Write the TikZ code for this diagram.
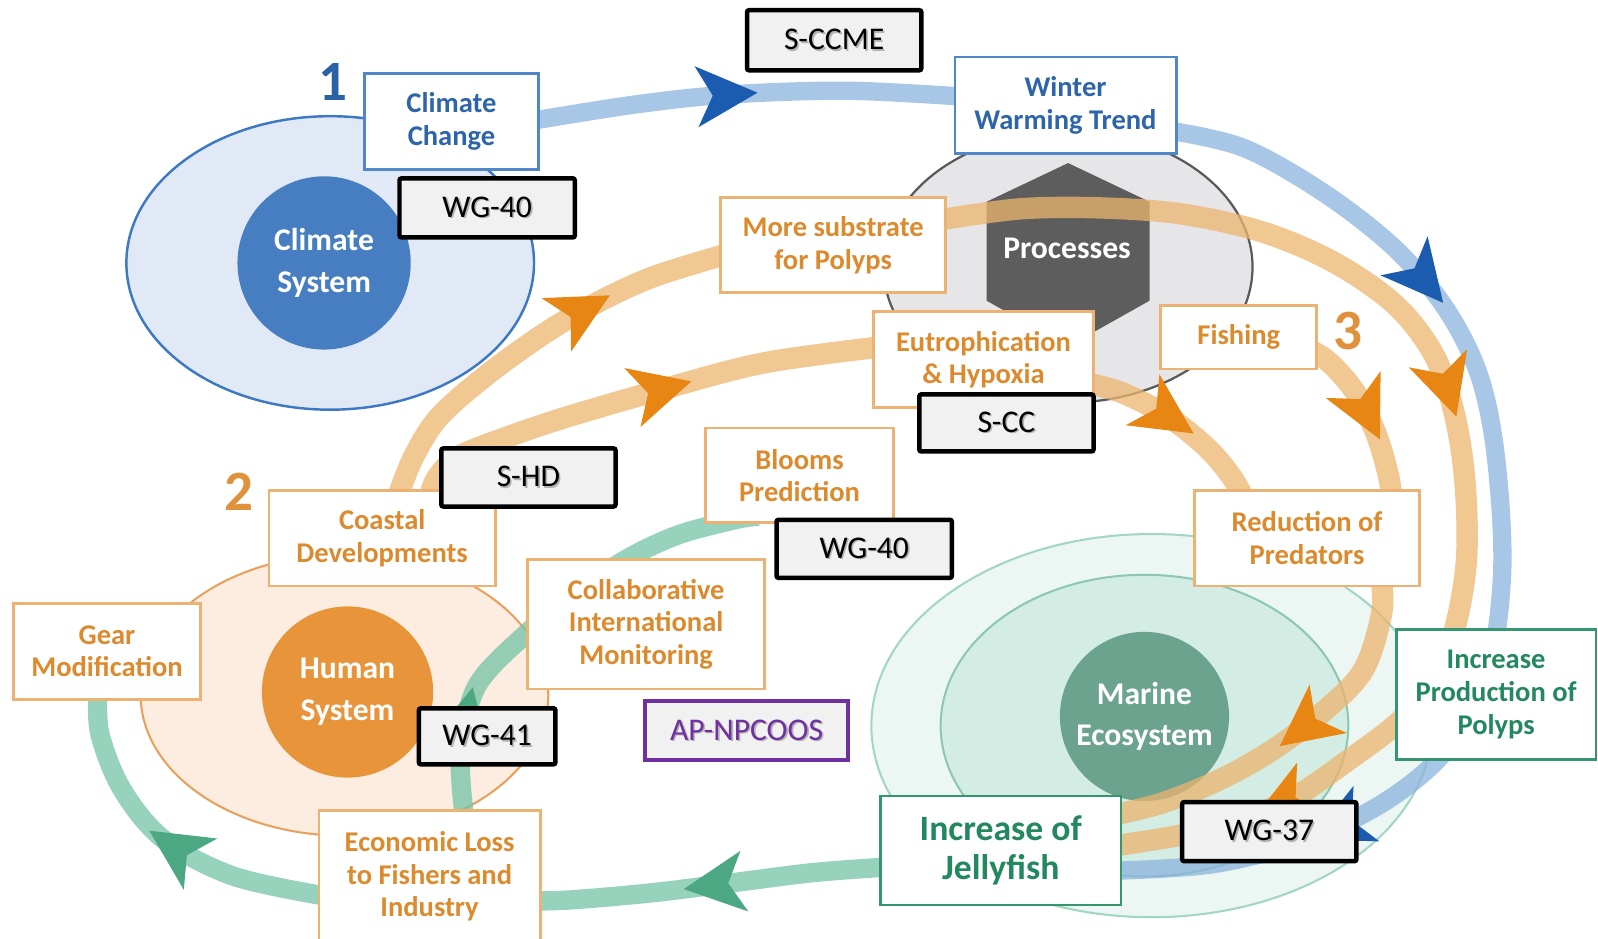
\documentclass[tikz,border=0pt]{standalone}
\usepackage{fontspec}
\setmainfont{Carlito}
\usetikzlibrary{decorations.markings}

\pgfdeclarelayer{back}
\pgfdeclarelayer{bands}
\pgfsetlayers{back,bands,main}

% palette
\definecolor{climfill}{HTML}{E0E9F5}
\definecolor{climline}{HTML}{3C78C3}
\definecolor{climcore}{HTML}{467EC1}
\definecolor{humfill}{HTML}{FDEDE0}
\definecolor{humline}{HTML}{E8A05A}
\definecolor{humcore}{HTML}{E8943A}
\definecolor{marfillA}{HTML}{ECF6F2}
\definecolor{marlineA}{HTML}{A0D6C2}
\definecolor{marfillB}{HTML}{D4EDE4}
\definecolor{marlineB}{HTML}{8CC8B0}
\definecolor{marcore}{HTML}{6CA38E}
\definecolor{procfill}{HTML}{E6E6E8}
\definecolor{procline}{HTML}{5A5A5A}
\definecolor{hexgray}{HTML}{5D5D5D}
\definecolor{bandblue}{RGB}{139,179,222}
\definecolor{bandorange}{RGB}{236,180,110}
\definecolor{bandgreen}{RGB}{115,195,166}
\definecolor{headblue}{HTML}{1B5CB0}
\definecolor{headorange}{HTML}{E88614}
\definecolor{headgreen}{HTML}{4BA882}
\definecolor{txtblue}{HTML}{2D64AA}
\definecolor{boxblue}{HTML}{5087C8}
\definecolor{txtorange}{HTML}{DB8A2E}
\definecolor{boxorange}{HTML}{ECB273}
\definecolor{txtgreen}{HTML}{23875F}
\definecolor{boxgreen}{HTML}{34966E}
\definecolor{tagfill}{HTML}{F1F1F1}
\definecolor{tagpurple}{HTML}{7030A0}
\definecolor{numblue}{HTML}{2A62A8}
\definecolor{numorange}{HTML}{E0913C}

% label text with a soft drop shadow
\newcommand{\shd}[1]{\leavevmode\rlap{\kern0.8pt\raisebox{-0.8pt}{\textcolor{black!30}{#1}}}#1}

\tikzset{
  box/.style={rectangle, fill=white, line width=1.4pt, inner sep=0pt, align=center,
    font=\bfseries\fontsize{14}{16}\selectfont},
  bluebox/.style={box, draw=boxblue, text=txtblue},
  orangebox/.style={box, draw=boxorange, text=txtorange},
  greenbox/.style={box, draw=boxgreen, text=txtgreen},
  tag/.style={rectangle, rounded corners=1pt, fill=tagfill, draw=black, line width=2.2pt,
    inner sep=0pt, font=\fontsize{15.5}{18}\selectfont},
  hub/.style={circle, inner sep=0pt, text=white, align=center,
    font=\bfseries\fontsize{15.5}{20.5}\selectfont},
  digit/.style={inner sep=0pt, font=\bfseries\fontsize{28}{28}\selectfont},
  band/.style={line width=#1, draw opacity=0.75, line cap=butt, postaction={decorate}},
  arr/.style 2 args={decoration={markings, mark=at position #1 with
    {\fill[#2] (15pt,0) -- (-15pt,15pt) -- (-7pt,0) -- (-15pt,-15pt) -- cycle;}}},
}

\begin{document}
\begin{tikzpicture}[x=0.5pt, y=-0.5pt]
\useasboundingbox (0,0) rectangle (1568,921);

% ---------- systems ----------
\begin{pgfonlayer}{back}
  \path[fill=climfill, draw=climline, line width=1.2pt] (324,258) ellipse [x radius=100pt, y radius=72pt];
  \node[hub, fill=climcore, minimum size=85pt] (cs) at (318,258) {Climate\\System};

  \path[fill=humfill, draw=humline, line width=1pt] (338,682) ellipse [x radius=100pt, y radius=69pt];
  \node[hub, fill=humcore, minimum size=84pt] (hs) at (341,679) {Human\\System};

  \path[fill=marfillA, draw=marlineA, line width=1pt] (1130,712) ellipse [x radius=137.5pt, y radius=94pt];
  \path[fill=marfillB, draw=marlineB, line width=1pt] (1123,712) ellipse [x radius=100pt, y radius=74pt];
  \node[hub, fill=marcore, minimum size=83pt] (me) at (1123,703) {Marine\\Ecosystem};

  \path[fill=procfill, draw=procline, line width=1.1pt] (1048,262) ellipse [x radius=90.5pt, y radius=66.5pt];
  \fill[hexgray] (1048,160) -- (1128,198) -- (1128,295) -- (1048,340) -- (968,295) -- (968,198) -- cycle;
\end{pgfonlayer}

\node[text=white, font=\bfseries\fontsize{15.5}{18}\selectfont] (proc) at (1047,244) {Processes};

% ---------- boxes ----------
\node[bluebox, minimum width=85pt, minimum height=47pt] (cc) at (443,119) {Climate\\Change};
\node[bluebox, minimum width=108.5pt, minimum height=47.5pt] (wwt) at (1045.5,103.5) {Winter\\Warming Trend};

\node[orangebox, minimum width=110.5pt, minimum height=46.5pt] (msp) at (817.5,240.5) {More substrate\\for Polyps};
\node[orangebox, minimum width=108pt, minimum height=47pt] (eut) at (965,353) {Eutrophication\\\& Hypoxia};
\node[orangebox, minimum width=76.5pt, minimum height=31pt] (fish) at (1215.5,331) {Fishing};
\node[orangebox, minimum width=110.5pt, minimum height=47pt] (rop) at (1282.5,528) {Reduction of\\Predators};
\node[orangebox, minimum width=92.5pt, minimum height=46.5pt] (blm) at (784.5,466.5) {Blooms\\Prediction};
\node[orangebox, minimum width=116pt, minimum height=63.5pt] (cim) at (634,612.5) {Collaborative\\International\\Monitoring};
\node[orangebox, minimum width=111pt, minimum height=47pt] (cdv) at (375,528) {Coastal\\Developments};
\node[orangebox, minimum width=92pt, minimum height=47pt] (gear) at (105,639) {Gear\\Modification};
\node[orangebox, minimum width=108.5pt, minimum height=65pt] (elf) at (421.5,860) {Economic Loss\\to Fishers and\\Industry};

\node[greenbox, minimum width=98pt, minimum height=63.5pt] (ipp) at (1468,681.5) {Increase\\Production of\\Polyps};
\node[greenbox, minimum width=118pt, minimum height=53.5pt, font=\bfseries\fontsize{17.5}{19.5}\selectfont] (ioj) at (982,834.5) {Increase of\\Jellyfish};

% ---------- group tags ----------
\node[tag, minimum width=86pt, minimum height=29pt] (wga) at (478,204) {\shd{WG-40}};
\node[tag, minimum width=85.5pt, minimum height=29.5pt] (sccme) at (818.5,39.5) {\shd{S-CCME}};
\node[tag, minimum width=85.5pt, minimum height=28pt] (scc) at (987.5,415) {\shd{S-CC}};
\node[tag, minimum width=85.5pt, minimum height=28.5pt] (shd) at (518.5,468.5) {\shd{S-HD}};
\node[tag, minimum width=86pt, minimum height=28.5pt] (wgb) at (848,538.5) {\shd{WG-40}};
\node[tag, minimum width=67pt, minimum height=27.5pt] (wgc) at (478,722.5) {\shd{WG-41}};
\node[tag, minimum width=85.5pt, minimum height=29pt] (wgd) at (1245.5,816) {\shd{WG-37}};
\node[tag, draw=tagpurple, text=tagpurple, line width=2pt, rounded corners=0pt, minimum width=99.5pt, minimum height=29pt] (apn) at (732.5,717) {\shd{AP-NPCOOS}};

% ---------- loop numbers ----------
\node[digit, text=numblue] (n1) at (327,80) {1};
\node[digit, text=numorange] (n2) at (234,483) {2};
\node[digit, text=numorange] (n3) at (1323,325) {3};

% ---------- flows ----------
\begin{pgfonlayer}{bands}
  % loop 1: climate
  \draw[band=9pt, draw=bandblue, arr={0.455}{headblue}]
    plot[smooth, tension=0.55] coordinates {([xshift=-5pt]cc.east) (620,103) (712,93) (830,89) ([shift={(6pt,4.25pt)}]wwt.west)};
  \draw[band=9pt, draw=bandblue, arr={0.26}{headblue}, arr={0.80}{headblue}]
    plot[smooth, tension=0.55] coordinates {([shift={(-6pt,-12pt)}]wwt.east) (1220,145) (1300,190) (1370,245) (1420,305)
      (1452,370) (1468,450) (1474,560) (1460,660) (1420,735) (1360,786) (1280,825) (1190,848) ([shift={(-6pt,-10pt)}]ioj.east)};

  % loop 2/3: human drivers
  \draw[band=10.5pt, draw=bandorange, arr={0.63}{headorange}]
    plot[smooth, tension=0.55] coordinates {([shift={(7.5pt,-4.5pt)}]cdv.north) (405,450) (430,410) (475,370) (530,330)
      (580,300) (640,272) ([shift={(6pt,-3.75pt)}]msp.west)};
  \draw[band=10.5pt, draw=bandorange, arr={0.463}{headorange}, arr={0.858}{headorange}]
    plot[smooth, tension=0.55] coordinates {([shift={(-6pt,12pt)}]msp.east) (1000,205) (1080,204) (1160,210) (1240,228)
      (1310,258) (1370,300) (1408,350) (1428,410) (1438,480) (1438,560) (1420,640) (1381,700) (1320,748)
      (1259,788) (1180,815) ([shift={(-6pt,2pt)}]ioj.east)};
  \draw[band=10.5pt, draw=bandorange, arr={0.545}{headorange}]
    plot[smooth, tension=0.55] coordinates {([shift={(22.5pt,-7pt)}]cdv.north) (428,470) (450,448) (500,428) (560,408)
      (650,382) (750,356) ([shift={(6pt,6.5pt)}]eut.west)};
  \draw[band=10.5pt, draw=bandorange, arr={0.44}{headorange}]
    plot[smooth, tension=0.55] coordinates {([shift={(-6pt,-11pt)}]eut.east) (1100,385) (1145,408) (1185,440) (1210,470)
      ([shift={(-30pt,-7pt)}]rop.north)};
  \draw[band=10.5pt, draw=bandorange, arr={0.53}{headorange}]
    plot[smooth, tension=0.55] coordinates {([shift={(25pt,-2pt)}]fish.center) (1300,352) (1330,385) (1350,425) (1362,465)
      ([shift={(42pt,-7pt)}]rop.north)};
  \draw[band=10.5pt, draw=bandorange, arr={0.46}{headorange}]
    plot[smooth, tension=0.55] coordinates {([shift={(36pt,7pt)}]rop.south) (1356,600) (1338,657) (1300,697) (1250,735)
      (1197,765) (1140,788) ([shift={(-6pt,17pt)}]ioj.east)};

  % responses
  \draw[band=9.5pt, draw=bandgreen, arr={0.21}{headgreen}]
    plot[smooth, tension=0.55] coordinates {([shift={(17pt,-3pt)}]elf.north) (452,739) (468,673) (517,621) (560,585)
      (614,549) (665,525) (721,510) ([shift={(-20pt,4pt)}]blm.south)};
  \draw[band=9.5pt, draw=bandgreen, arr={0.49}{headgreen}]
    plot[smooth, tension=0.55] coordinates {([shift={(6pt,-8pt)}]ioj.west) (800,856) (720,866) (640,876) (560,883)
      ([shift={(-6pt,-12pt)}]elf.east)};
  \draw[band=9.5pt, draw=bandgreen, arr={0.47}{headgreen}]
    plot[smooth, tension=0.55] coordinates {([shift={(6pt,-10pt)}]elf.west) (230,860) (161,824) (120,775) (98,720)
      ([shift={(-4.5pt,6pt)}]gear.south)};
\end{pgfonlayer}
\end{tikzpicture}
\end{document}
